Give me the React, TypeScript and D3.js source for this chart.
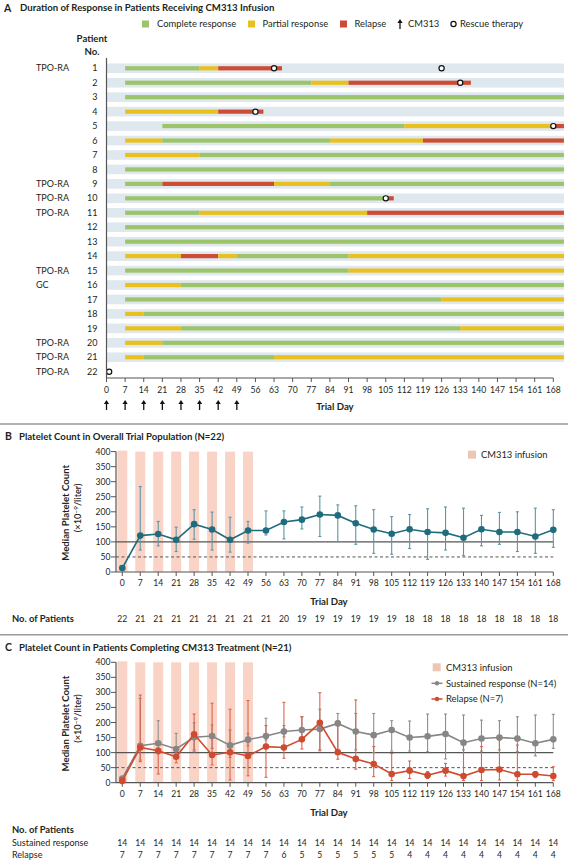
import React from "react";
import * as d3 from "d3";

// ---------- DATA ----------
const tickDays = [0, 7, 14, 21, 28, 35, 42, 49, 56, 63, 70, 77, 84, 91, 98, 105, 112, 119, 126, 133, 140, 147, 154, 161, 168];
const infusionDays = [0, 7, 14, 21, 28, 35, 42, 49];

const patients = [1, 2, 3, 4, 5, 6, 7, 8, 9, 10, 11, 12, 13, 14, 15, 16, 17, 18, 19, 20, 21, 22];
const patientGroups = ["TPO-RA", "", "", "", "", "", "", "", "TPO-RA", "TPO-RA", "TPO-RA", "", "", "", "TPO-RA", "GC", "", "", "", "TPO-RA", "TPO-RA", "TPO-RA"];

// status: C = complete response, P = partial response, R = relapse
const segPatient = [1, 1, 1, 2, 2, 2, 3, 4, 4, 5, 5, 5, 6, 6, 6, 6, 7, 7, 8, 9, 9, 9, 9, 10, 10, 11, 11, 11, 12, 13, 14, 14, 14, 14, 14, 15, 15, 16, 16, 17, 17, 18, 18, 19, 19, 19, 20, 20, 21, 21, 21];
const segStart = [7, 35, 42, 7, 77, 91, 7, 7, 42, 21, 112, 168, 7, 21, 84, 119, 7, 35, 7, 7, 21, 63, 84, 7, 105, 7, 35, 98, 7, 7, 7, 28, 42, 49, 91, 7, 91, 7, 28, 7, 126, 7, 14, 7, 28, 133, 7, 21, 7, 14, 63];
const segEnd = [35, 42, 66, 77, 91, 137, 172, 42, 59, 112, 168, 172, 21, 84, 119, 172, 35, 172, 172, 21, 63, 84, 172, 105, 108, 35, 98, 172, 172, 172, 28, 42, 49, 91, 172, 91, 172, 28, 172, 126, 172, 14, 172, 28, 133, 172, 21, 172, 14, 63, 172];
const segStatus = ["C", "P", "R", "C", "P", "R", "C", "P", "R", "C", "P", "R", "P", "C", "P", "R", "P", "C", "C", "C", "R", "P", "C", "C", "R", "C", "P", "R", "C", "C", "P", "R", "P", "C", "P", "C", "P", "P", "C", "C", "P", "P", "C", "P", "C", "P", "P", "C", "P", "C", "P"];

const rescuePatient = [1, 1, 2, 4, 5, 10, 22];
const rescueDay = [63, 126, 133, 56, 168, 105, 1];

// Panel B: overall population
const overallMedian = [13, 121, 126, 107, 159, 141, 107, 138, 138, 166, 174, 191, 188, 162, 141, 127, 142, 133, 130, 114, 142, 133, 133, 118, 140];
const overallLow = [13, 73, 87, 68, 109, 73, 66, 96, 123, 110, 143, 118, 101, 92, 62, 59, 78, 42, 73, 54, 87, 92, 68, 62, 82];
const overallHigh = [13, 284, 168, 149, 207, 199, 182, 168, 203, 203, 216, 252, 223, 220, 207, 184, 191, 210, 216, 212, 188, 198, 200, 212, 207];
const overallN = [22, 21, 21, 21, 21, 21, 21, 21, 21, 20, 19, 19, 19, 19, 19, 19, 18, 18, 18, 18, 18, 18, 18, 18, 18];

// Panel C: sustained response vs relapse
const sustainedMedian = [14, 123, 131, 112, 151, 155, 124, 143, 155, 170, 175, 178, 197, 170, 158, 175, 150, 154, 162, 133, 147, 150, 147, 131, 144];
const sustainedLow = [14, 75, 95, 84, 103, 114, 84, 122, 142, 152, 144, 109, 109, 109, 100, 105, 105, 103, 79, 109, 105, 109, 103, 89, 114];
const sustainedHigh = [14, 280, 206, 164, 199, 192, 175, 164, 214, 190, 219, 244, 230, 230, 230, 206, 205, 228, 228, 225, 208, 206, 219, 225, 227];
const relapseMedian = [6, 117, 106, 86, 161, 92, 101, 89, 120, 117, 144, 199, 101, 79, 62, 29, 40, 25, 40, 22, 42, 44, 28, 28, 22];
const relapseLow = [6, 70, 29, 66, 109, 59, 9, 23, 18, 81, 112, 106, 78, 45, 20, 7, 14, 14, 22, 7, 7, 9, 7, 17, 7];
const relapseHigh = [6, 291, 115, 109, 228, 264, 244, 273, 190, 267, 219, 299, 206, 275, 120, 97, 72, 37, 64, 131, 120, 142, 125, 37, 53];
const sustainedN = [14, 14, 14, 14, 14, 14, 14, 14, 14, 14, 14, 14, 14, 14, 14, 14, 14, 14, 14, 14, 14, 14, 14, 14, 14];
const relapseN = [7, 7, 7, 7, 7, 7, 7, 7, 7, 6, 5, 5, 5, 5, 5, 5, 4, 4, 4, 4, 4, 4, 4, 4, 4];

const yTicks = [0, 50, 100, 150, 200, 250, 300, 350, 400];

// ---------- STYLE ----------
const FONT = "Lato, 'Open Sans', sans-serif";
const statusColor: Record<string, string> = { C: "#9cc46a", P: "#e9c11e", R: "#cd4c33" };
const PINK = "#f9d4c6";
const TEAL = "#1e6c7e";
const TEAL_ERR = "#5a96a6";
const GRAY = "#868686";
const GRAY_ERR = "#8e8e8e";
const RED = "#cf4a2e";
const RED_ERR = "#d8654c";
const AXIS = "#555";
const TEXT = "#231f20";

const END_DAY = 172;

function Arrow({ x, y1, y2 }: { x: number; y1: number; y2: number }) {
  return (
    <g>
      <line x1={x} x2={x} y1={y1 + 3} y2={y2} stroke="#111" strokeWidth={1.3} />
      <path d={`M${x - 2.6},${y1 + 4} L${x},${y1} L${x + 2.6},${y1 + 4} Z`} fill="#111" />
    </g>
  );
}

function PanelA() {
  const x = d3.scaleLinear().domain([0, 168]).range([106.5, 553.3]);
  const y = d3.scalePoint<number>().domain(patients).range([68.3, 371.7]);
  const axisY = 378;
  return (
    <g fontFamily={FONT} fill={TEXT}>
      <text x={4} y={8} dy="0.35em" fontSize={10.5} fontWeight={700}>A</text>
      <text x={20} y={8} dy="0.35em" fontSize={9.6} fontWeight={700}>Duration of Response in Patients Receiving CM313 Infusion</text>
      {/* legend */}
      <g fontSize={9.4}>
        <rect x={142} y={20.5} width={7} height={7} fill={statusColor.C} />
        <text x={157} y={24} dy="0.35em">Complete response</text>
        <rect x={248} y={20.5} width={7} height={7} fill={statusColor.P} />
        <text x={262.5} y={24} dy="0.35em">Partial response</text>
        <rect x={340} y={20.5} width={7} height={7} fill={statusColor.R} />
        <text x={354.5} y={24} dy="0.35em">Relapse</text>
        <Arrow x={400} y1={19} y2={29} />
        <text x={408} y={24} dy="0.35em">CM313</text>
        <circle cx={453.5} cy={24} r={2.6} fill="#fff" stroke="#111" strokeWidth={1.2} />
        <text x={460} y={24} dy="0.35em">Rescue therapy</text>
      </g>
      <text x={92} y={39} dy="0.35em" fontSize={9.6} fontWeight={700} textAnchor="middle">Patient</text>
      <text x={92} y={51.5} dy="0.35em" fontSize={9.6} fontWeight={700} textAnchor="middle">No.</text>
      {/* bands */}
      {patients.filter((p) => p !== 22).map((p) => (
        <rect key={"b" + p} x={x(0)} y={(y(p) as number) - 4.8} width={x(END_DAY) - x(0)} height={9.6} fill="#dfe7ef" />
      ))}
      {/* segments */}
      {segPatient.map((p, i) => (
        <rect key={"s" + i} x={x(segStart[i])} y={(y(p) as number) - 2.1} width={x(segEnd[i]) - x(segStart[i])} height={4.2} fill={statusColor[segStatus[i]]} />
      ))}
      {rescuePatient.map((p, i) => (
        <circle key={"r" + i} cx={x(rescueDay[i])} cy={y(p) as number} r={2.6} fill="#fff" stroke="#111" strokeWidth={1.2} />
      ))}
      {/* labels */}
      {patients.map((p, i) => (
        <g key={"l" + p} fontSize={9}>
          <text x={97.5} y={y(p) as number} dy="0.35em" textAnchor="end">{p}</text>
          {patientGroups[i] && <text x={36} y={y(p) as number} dy="0.35em">{patientGroups[i]}</text>}
        </g>
      ))}
      {/* axes */}
      <line x1={x(0)} x2={x(0)} y1={58} y2={axisY} stroke={AXIS} strokeWidth={1.2} />
      <line x1={x(0)} x2={x(168)} y1={axisY} y2={axisY} stroke={AXIS} strokeWidth={1.2} />
      {tickDays.map((d) => (
        <g key={"t" + d}>
          <line x1={x(d)} x2={x(d)} y1={axisY} y2={axisY + 4} stroke={AXIS} strokeWidth={1} />
          <text x={x(d)} y={389.5} dy="0.35em" fontSize={8.6} textAnchor="middle">{d}</text>
        </g>
      ))}
      {infusionDays.map((d) => (
        <Arrow key={"a" + d} x={x(d)} y1={400} y2={410} />
      ))}
      <text x={335} y={407} dy="0.35em" fontSize={9.6} fontWeight={700} textAnchor="middle">Trial Day</text>
    </g>
  );
}

type Series = { median: number[]; low: number[]; high: number[]; line: string; err: string; r: number };

function PlateletPanel({ letter, title, y0, series, legend }: { letter: string; title: string; y0: number; series: Series[]; legend: React.ReactNode }) {
  const x = d3.scaleLinear().domain([0, 168]).range([122.3, 553.3]);
  const y = d3.scaleLinear().domain([0, 400]).range([y0, y0 - 120.4]);
  const axX = 116;
  const lineGen = d3.line<number>().x((_, i) => x(tickDays[i])).y((v) => y(v));
  const titleY = y0 - 135.3;
  return (
    <g fontFamily={FONT} fill={TEXT}>
      <line x1={0} x2={568} y1={titleY - 12.7} y2={titleY - 12.7} stroke="#9a9a9a" strokeWidth={1.5} />
      <text x={5} y={titleY} dy="0.35em" fontSize={10.5} fontWeight={700}>{letter}</text>
      <text x={19} y={titleY} dy="0.35em" fontSize={9.6} fontWeight={700}>{title}</text>
      {infusionDays.map((d) => (
        <rect key={"p" + d} x={x(d - 1.95)} y={y(400) - (d === 0 ? 1 : 0)} width={x(d + 1.95) - x(d - 1.95)} height={y(0) - y(400) + (d === 0 ? 1 : 0)} fill={PINK} />
      ))}
      <line x1={axX} x2={x(168)} y1={y(100)} y2={y(100)} stroke={AXIS} strokeWidth={1.1} />
      <line x1={axX} x2={x(168)} y1={y(50)} y2={y(50)} stroke={AXIS} strokeWidth={1} strokeDasharray="3,2.5" />
      {/* y axis */}
      <line x1={axX} x2={axX} y1={y(400)} y2={y(0)} stroke={AXIS} strokeWidth={1.2} />
      {yTicks.map((t) => (
        <g key={"y" + t}>
          <line x1={axX - 5} x2={axX} y1={y(t)} y2={y(t)} stroke={AXIS} strokeWidth={1} />
          <text x={axX - 5.5} y={y(t)} dy="0.35em" fontSize={8.6} textAnchor="end">{t}</text>
        </g>
      ))}
      <g transform={`translate(68.5, ${y(200) + 1}) rotate(-90)`}>
        <text textAnchor="middle" fontSize={9.6} fontWeight={700}>Median Platelet Count</text>
      </g>
      <g transform={`translate(81, ${y(200) - 4}) rotate(-90)`}>
        <text textAnchor="middle" fontSize={9.2} fontWeight={600}>
          (×10<tspan fontSize={6.5} dy={-3.5}>−9</tspan><tspan dy={3.5}>/liter)</tspan>
        </text>
      </g>
      {/* x axis */}
      <line x1={axX} x2={x(168)} y1={y(0)} y2={y(0)} stroke={AXIS} strokeWidth={1.2} />
      {tickDays.map((d) => (
        <g key={"x" + d}>
          <line x1={x(d)} x2={x(d)} y1={y(0)} y2={y(0) + 4} stroke={AXIS} strokeWidth={1} />
          <text x={x(d)} y={y0 + 11.3} dy="0.35em" fontSize={8.6} textAnchor="middle">{d}</text>
        </g>
      ))}
      <text x={329} y={y0 + 29.7} dy="0.35em" fontSize={9.6} fontWeight={700} textAnchor="middle">Trial Day</text>
      {/* series */}
      {series.map((s, si) => (
        <g key={"s" + si}>
          {tickDays.map((d, i) =>
            s.high[i] !== s.low[i] ? (
              <g key={"e" + i} stroke={s.err} strokeWidth={1.1}>
                <line x1={x(d)} x2={x(d)} y1={y(s.high[i])} y2={y(s.low[i])} />
                <line x1={x(d) - 1.5} x2={x(d) + 1.5} y1={y(s.high[i])} y2={y(s.high[i])} />
                <line x1={x(d) - 1.5} x2={x(d) + 1.5} y1={y(s.low[i])} y2={y(s.low[i])} />
              </g>
            ) : null
          )}
        </g>
      ))}
      {series.map((s, si) => (
        <g key={"l" + si}>
          <path d={lineGen(s.median) || ""} fill="none" stroke={s.line} strokeWidth={1.6} />
          {s.median.map((v, i) => (
            <circle key={"c" + i} cx={x(tickDays[i])} cy={y(v)} r={s.r} fill={s.line} />
          ))}
        </g>
      ))}
      {legend}
    </g>
  );
}

function NumberRow({ y, values }: { y: number; values: number[] }) {
  const x = d3.scaleLinear().domain([0, 168]).range([122.3, 553.3]);
  return (
    <g fontFamily={FONT} fill={TEXT} fontSize={8.6}>
      {values.map((v, i) => (
        <text key={i} x={x(tickDays[i])} y={y} dy="0.35em" textAnchor="middle">{v}</text>
      ))}
    </g>
  );
}

export default function App() {
  const legendB = (
    <g fontFamily={FONT} fontSize={9.4} fill={TEXT}>
      <rect x={468} y={450.7} width={8} height={8} fill="#efc6b6" />
      <text x={481} y={454.7} dy="0.35em">CM313 infusion</text>
    </g>
  );
  const legendC = (
    <g fontFamily={FONT} fontSize={9.4} fill={TEXT}>
      <rect x={432.7} y={663.3} width={8} height={8} fill="#efc6b6" />
      <text x={446} y={667.3} dy="0.35em">CM313 infusion</text>
      <line x1={431.5} x2={442.5} y1={683.3} y2={683.3} stroke={GRAY} strokeWidth={1.5} />
      <circle cx={437} cy={683.3} r={2.2} fill={GRAY} />
      <text x={446} y={683.3} dy="0.35em">Sustained response (N=14)</text>
      <line x1={431.5} x2={442.5} y1={699} y2={699} stroke={RED} strokeWidth={1.5} />
      <circle cx={437} cy={699} r={2.2} fill={RED} />
      <text x={446} y={699} dy="0.35em">Relapse (N=7)</text>
    </g>
  );
  return (
    <svg width={570} height={865} style={{ position: "absolute", left: 0, top: 0, background: "#fff" }}>
      <rect width={570} height={865} fill="#fff" />
      <PanelA />
      <PlateletPanel
        letter="B"
        title="Platelet Count in Overall Trial Population (N=22)"
        y0={572}
        series={[{ median: overallMedian, low: overallLow, high: overallHigh, line: TEAL, err: TEAL_ERR, r: 3.3 }]}
        legend={legendB}
      />
      <text x={12} y={619} dy="0.35em" fontFamily={FONT} fontSize={9.4} fontWeight={700} fill={TEXT}>No. of Patients</text>
      <NumberRow y={619} values={overallN} />
      <PlateletPanel
        letter="C"
        title="Platelet Count in Patients Completing CM313 Treatment (N=21)"
        y0={782.7}
        series={[
          { median: sustainedMedian, low: sustainedLow, high: sustainedHigh, line: GRAY, err: GRAY_ERR, r: 3.3 },
          { median: relapseMedian, low: relapseLow, high: relapseHigh, line: RED, err: RED_ERR, r: 3.3 },
        ]}
        legend={legendC}
      />
      <g fontFamily={FONT} fill={TEXT}>
        <text x={12} y={830} dy="0.35em" fontSize={9.4} fontWeight={700}>No. of Patients</text>
        <text x={12} y={843} dy="0.35em" fontSize={9}>Sustained response</text>
        <text x={12} y={854.5} dy="0.35em" fontSize={9}>Relapse</text>
      </g>
      <NumberRow y={843} values={sustainedN} />
      <NumberRow y={854.5} values={relapseN} />
    </svg>
  );
}
